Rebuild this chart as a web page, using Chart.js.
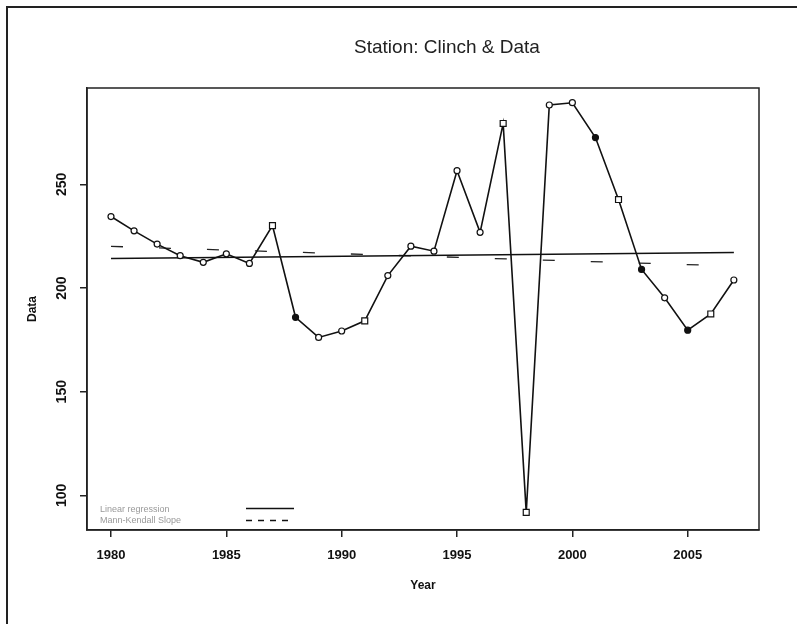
<!DOCTYPE html>
<html><head><meta charset="utf-8">
<script src="https://cdn.jsdelivr.net/npm/chart.js@4.4.1/dist/chart.umd.min.js"></script>
<style>html,body{margin:0;padding:0;background:#fff;}canvas{display:block;}</style>
</head><body>
<canvas id="c" width="797" height="624"></canvas>
<script>
const years = [1980,1981,1982,1983,1984,1985,1986,1987,1988,1989,1990,1991,1992,1993,1994,1995,1996,1997,1998,1999,2000,2001,2002,2003,2004,2005,2006,2007];
const values = [234.5,227.6,221.2,215.6,212.4,216.5,211.9,230.1,185.9,176.2,179.3,184.2,206.0,220.2,217.8,256.6,226.9,279.4,91.8,288.3,289.4,272.6,242.7,209.0,195.3,179.7,187.5,203.9];
const filledYears = [1988,2001,2003,2005];
const squareYears = [1987,1991,1997,1998,2002,2006];
const xTicks = [1980,1985,1990,1995,2000,2005];
const yTicks = [100,150,200,250];
const regressionYears = [1980,2007];
const regressionValues = [214.2,217.2];
const mkYears = [1980,2007];
const mkValues = [220.1,210.6];
const titleText = 'Station: Clinch & Data';
const legendLabels = ['Linear regression','Mann-Kendall Slope'];

const toXY = (xs, ys) => xs.map((x,i)=>({x:x,y:ys[i]}));

const decor = {
  id:'decor',
  afterDraw(chart){
    const ctx = chart.ctx, a = chart.chartArea;
    ctx.save();
    ctx.strokeStyle = '#222'; ctx.lineWidth = 2;
    ctx.beginPath(); ctx.moveTo(7,624); ctx.lineTo(7,7); ctx.lineTo(797,7); ctx.stroke();
    ctx.lineWidth = 1.5; ctx.strokeStyle = '#222';
    ctx.strokeRect(a.left, a.top, a.right-a.left, a.bottom-a.top);
    ctx.fillStyle = '#222';
    ctx.font = '19px "Liberation Sans", Arial, sans-serif';
    ctx.textAlign = 'center'; ctx.textBaseline = 'middle';
    ctx.fillText(titleText, 447, 48);
    ctx.fillStyle = '#999';
    ctx.font = '9px "Liberation Sans", Arial, sans-serif';
    ctx.textAlign = 'left';
    ctx.fillText(legendLabels[0], 100, 510);
    ctx.fillText(legendLabels[1], 100, 521);
    ctx.strokeStyle = '#111'; ctx.lineWidth = 1.5;
    ctx.beginPath(); ctx.moveTo(246,508.5); ctx.lineTo(294,508.5); ctx.stroke();
    ctx.setLineDash([6,6]);
    ctx.beginPath(); ctx.moveTo(246,520.5); ctx.lineTo(294,520.5); ctx.stroke();
    ctx.restore();
  }
};

const xTickFont = {family:'"Liberation Sans", Arial, sans-serif', weight:'bold', size:13};
const yTickFont = {family:'"Liberation Sans", Arial, sans-serif', weight:'bold', size:14};

new Chart(document.getElementById('c'), {
  type:'line',
  data:{
    datasets:[
      {
        data: toXY(years, values),
        borderColor:'#111', borderWidth:1.6, tension:0,
        pointRadius: years.map(y=>squareYears.includes(y)?4.2:3),
        pointBorderWidth:1.2, pointBorderColor:'#111',
        pointBackgroundColor: years.map(y=>filledYears.includes(y)?'#111':'#fff'),
        pointStyle: years.map(y=>squareYears.includes(y)?'rect':'circle'),
        order:1
      },
      {
        data: toXY(regressionYears, regressionValues),
        borderColor:'#111', borderWidth:1.5, pointRadius:0, order:2
      },
      {
        data: toXY(mkYears, mkValues),
        borderColor:'#222', borderWidth:1.3, borderDash:[12,36], pointRadius:0, order:3
      }
    ]
  },
  options:{
    responsive:false, animation:false, devicePixelRatio:1,
    layout:{padding:{left:0,right:38,top:88,bottom:0}},
    plugins:{legend:{display:false}, title:{display:false}, tooltip:{enabled:false}},
    scales:{
      x:{
        type:'linear', min:1978.96, max:2008.09,
        afterBuildTicks:(s)=>{ s.ticks = xTicks.map(v=>({value:v})); },
        afterFit:(s)=>{ s.height = 94; },
        grid:{drawOnChartArea:false, drawTicks:true, tickLength:7, color:'#222', lineWidth:1.5},
        border:{display:true, color:'#222', width:1.5},
        ticks:{font:xTickFont, color:'#111', padding:11, maxRotation:0, callback:(v)=>String(v)},
        title:{display:true, text:'Year', font:{family:'"Liberation Sans", Arial, sans-serif', weight:'bold', size:12}, color:'#111', padding:{top:0,bottom:31}}
      },
      y:{
        type:'linear', min:83.3, max:296.5,
        afterBuildTicks:(s)=>{ s.ticks = yTicks.map(v=>({value:v})); },
        afterFit:(s)=>{ s.width = 87; },
        grid:{drawOnChartArea:false, drawTicks:true, tickLength:7, color:'#222', lineWidth:1.5},
        border:{display:true, color:'#222', width:1.5},
        ticks:{font:yTickFont, color:'#111', padding:6, minRotation:90, maxRotation:90, crossAlign:'center', callback:(v)=>String(v)},
        title:{display:true, text:'Data', font:{family:'"Liberation Sans", Arial, sans-serif', weight:'bold', size:12}, color:'#111', padding:{top:25,bottom:0}}
      }
    }
  },
  plugins:[decor]
});
</script>
</body></html>
